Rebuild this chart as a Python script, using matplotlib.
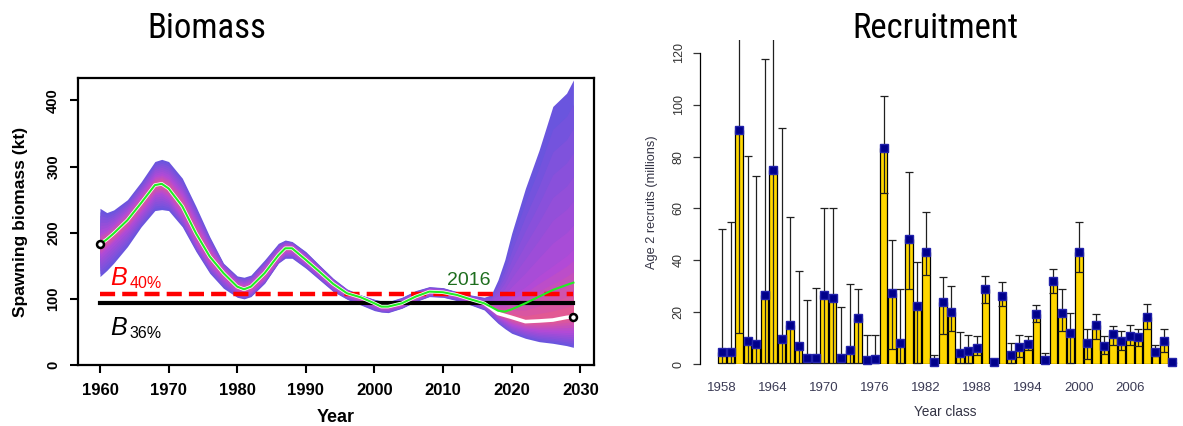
import numpy as np
import matplotlib
matplotlib.use("Agg")
import matplotlib.pyplot as plt
from matplotlib import font_manager as fm
from matplotlib.colors import to_rgb

plt.rcParams['font.family'] = ['Liberation Sans', 'DejaVu Sans']

# ---- Biomass (spawning biomass, kt) ----
years_b = [1960, 1961, 1962, 1964, 1966, 1968, 1969, 1970, 1972, 1974, 1976, 1978,
           1980, 1981, 1982, 1984, 1986, 1987, 1988, 1990, 1992, 1994, 1996, 1998,
           2000, 2001, 2002, 2004, 2006, 2008, 2010, 2012, 2014, 2016, 2017, 2018,
           2019, 2020, 2022, 2024, 2026, 2028, 2029]
assess_2016 = [182.6, 190, 199, 219, 245, 272, 274, 267, 240, 199, 164, 139,
               118.5, 114.5, 118.5, 139, 166, 176.5, 176.5, 159, 141, 122.6, 108.5, 102.4,
               93.3, 88.3, 88.3, 93.3, 103.4, 111, 110, 106, 99.4, 93.3, 88, 82.2,
               80.7, 84.2, 93.3, 103.4, 113.5, 121, 124.6]
median_b = [182.6, 190, 199, 219, 245, 272, 274, 267, 240, 199, 164, 139,
            118.5, 114.5, 118.5, 139, 166, 176.5, 176.5, 159, 141, 122.6, 108.5, 102.4,
            93.3, 88.3, 88.3, 93.3, 103.4, 111, 110, 106, 99.4, 93.3, 86, 78,
            75, 72, 65.6, 66.6, 68, 72, 73]
outer_hi = [237, 230.5, 234.5, 250, 277, 307.7, 311, 307.7, 282.5, 239.6, 194, 154,
            134.7, 132.7, 136, 159, 184, 189, 186.7, 171.5, 151, 131, 115, 106,
            99.4, 97, 95.8, 102.4, 112.5, 118.5, 117, 111, 106, 102.4, 106, 128.6,
            159, 199, 267, 325, 391, 411, 431]
outer_lo = [133.7, 143, 154, 179, 209, 233.5, 235, 233.5, 209, 171.5, 138.7, 116,
            102.4, 100, 103.4, 123.6, 154, 161.4, 161.4, 146.3, 128.6, 111, 99.4, 90.8,
            82.2, 80, 79.2, 85.8, 95.8, 103.4, 102.4, 97.4, 90.8, 83.2, 73, 63,
            55, 48, 40.4, 35.3, 32.8, 29.3, 26.7]
inner_hi = [200, 205, 213, 233, 260, 287, 290, 285, 260, 218, 178, 147,
            126, 123, 127, 149, 175, 183, 182, 165, 146, 127, 112, 104.5,
            96.5, 92.5, 92, 97.5, 108, 115, 113.5, 108.5, 102.5, 97, 95, 95,
            98, 105, 118, 135, 150, 165, 175]
inner_lo = [165, 175, 185, 205, 230, 257, 259, 252, 223, 183, 151, 129,
            111, 107, 110, 130, 158, 170, 170, 153, 135, 117, 104, 96.5,
            89.5, 84.5, 84.5, 89, 99, 107, 106, 102.5, 95.5, 89, 82, 72,
            66, 60, 54, 51, 50, 49, 49]
b40 = 107
b35 = 93.5

# ---- Recruitment (age 2 recruits, millions) ----
years_r = list(range(1958, 2012))
recruits = [4.5, 4.5, 90.2, 8.7, 7.6, 26.7, 75, 9.8, 15.2, 6.8,
            2.3, 2.3, 26.7, 25.5, 2.3, 5.3, 17.7, 1.7, 1.9, 83.2,
            27.4, 8.1, 48.4, 22.2, 43.2, 0.8, 23.8, 19.9, 4.2, 4.9,
            6.2, 28.9, 0.6, 26.4, 3.6, 6.6, 7.8, 19.4, 1.7, 31.9,
            19.7, 12.0, 43.2, 8.1, 14.9, 7.1, 11.6, 9.0, 10.9, 10.3,
            18.1, 4.5, 8.7, 0.6]
rec_upper = [52.2, 54.8, 140, 80.1, 72.4, 117.7, 140, 90.9, 56.6, 36,
             24.6, 29.5, 60, 60, 21.9, 31, 29, 11.3, 11.3, 103.3,
             48, 28.9, 74.2, 39.4, 58.6, 3.3, 33.7, 30.2, 12.5, 11.1,
             10.7, 34.1, 0.6, 31.5, 8.1, 11.2, 10.7, 22.8, 4.2, 36.5,
             28.8, 19.7, 54.7, 13.4, 19.3, 10.7, 14.8, 12.6, 14.9, 13.6,
             23.1, 7.3, 13.6, 0.6]
rec_lower = [0.3, 0.3, 12, 0.3, 0.3, 0.3, 0.4, 0.3, 0.3, 0.3,
             0.3, 0.3, 0.3, 0.3, 0.3, 0.3, 0.3, 0.3, 0.3, 66,
             5.8, 0.3, 28.9, 0.4, 34.5, 0.3, 11.6, 12.9, 0.3, 0.3,
             3.6, 23.5, 0.6, 22.5, 0.3, 2.7, 5.3, 16.3, 0.3, 27.4,
             12.9, 0.4, 35.5, 1.9, 9.6, 3.9, 7.5, 5.5, 7.3, 6.8,
             13.5, 3.0, 4.5, 0.6]
rec_ticks = list(range(1958, 2007, 6))


def narrow_font():
    # look for a condensed sans face; fall back to a smaller Liberation Sans
    names = {f.name: f for f in fm.fontManager.ttflist}
    for nm in ['Liberation Sans Narrow', 'Roboto Condensed', 'Open Sans Condensed',
               'DejaVu Sans Condensed']:
        if nm in names:
            return dict(family=nm), 25
    for f in fm.fontManager.ttflist:
        if 'condensed' in str(f.stretch).lower() and f.name in ('DejaVu Sans', 'Roboto', 'Open Sans'):
            return dict(family=f.name, stretch=f.stretch), 25
    return dict(family='Liberation Sans'), 22


W, H = 1183, 426
fig = plt.figure(figsize=(W / 100, H / 100), dpi=100)

# ================= Biomass panel =================
ax1 = fig.add_axes([78 / W, 61 / H, 516 / W, 287 / H])
yb = np.array(years_b)
ohi, olo = np.array(outer_hi), np.array(outer_lo)
ihi, ilo = np.array(inner_hi), np.array(inner_lo)
med = np.array(median_b)

# fan: blend shading layers from outer band to inner band to median
c_out, c_mid, c_in = to_rgb('#6a55de'), to_rgb('#b24ad6'), to_rgb('#ec5c86')
n1, n2 = 7, 6
for k in range(n1):
    t = k / n1
    col = tuple(a + t * (b - a) for a, b in zip(c_out, c_mid))
    ax1.fill_between(yb, olo + t * (ilo - olo), ohi + t * (ihi - ohi),
                     color=col, lw=0, zorder=1)
for k in range(n2):
    t = k / n2
    col = tuple(a + t * (b - a) for a, b in zip(c_mid, c_in))
    ax1.fill_between(yb, ilo + t * (med - ilo), ihi + t * (med - ihi),
                     color=col, lw=0, zorder=1)

ax1.plot([1960, 2029], [b40, b40], color='#ff0000', lw=3.2, dashes=(3.4, 1.6), zorder=3)
ax1.plot([1960, 2029], [b35, b35], color='black', lw=3.0, zorder=3)
ax1.plot(yb, med, color='white', lw=2.6, zorder=4)
ax1.plot(yb, assess_2016, color='#22ee22', lw=1.5, zorder=5)
ax1.plot([years_b[0], years_b[-1]], [median_b[0], median_b[-1]], 'o', ms=5,
         mfc='white', mec='black', mew=1.8, zorder=6, clip_on=False)

ax1.text(1961.5, 121, 'B', color='red', fontsize=18, style='italic', zorder=6)
ax1.text(1964.3, 116, '40%', color='red', fontsize=11.5, zorder=6)
ax1.text(1961.5, 46, 'B', color='black', fontsize=18, style='italic', zorder=6)
ax1.text(1964.3, 41, '36%', color='black', fontsize=11.5, zorder=6)
ax1.text(2013.8, 128, '2016', color='#1e6e1e', fontsize=14, ha='center', va='center', zorder=6)

ax1.set_xlim(1956.8, 2032.0)
ax1.set_ylim(0, 434)
ax1.set_xticks(range(1960, 2031, 10))
ax1.set_yticks([0, 100, 200, 300, 400])
for s in ax1.spines.values():
    s.set_linewidth(1.6)
ax1.tick_params(direction='out', length=5.8, width=1.5, colors='black')
ax1.tick_params(axis='x', pad=7, labelsize=12)
ax1.tick_params(axis='y', pad=7, labelsize=10.5, labelrotation=90)
for lab in ax1.get_xticklabels() + ax1.get_yticklabels():
    lab.set_fontweight('bold')
for lab in ax1.get_yticklabels():
    lab.set_va('center')
ax1.set_xlabel('Year', fontsize=13, fontweight='bold')
ax1.xaxis.set_label_coords(0.5, -0.153)
ax1.set_ylabel('Spawning biomass (kt)', fontsize=12.5, fontweight='bold')
ax1.yaxis.set_label_coords(-0.097, 0.5)

# ================= Recruitment panel =================
ax2 = fig.add_axes([700 / W, 62 / H, 480 / W, 324 / H])
yr = np.array(years_r)
rv = np.array(recruits)
err = [rv - np.array(rec_lower), np.array(rec_upper) - rv]
ax2.bar(yr, rv, width=0.88, color='#ffd700', edgecolor='black', linewidth=0.9, zorder=2)
ax2.errorbar(yr, rv, yerr=err, fmt='none', ecolor='#202020', elinewidth=0.9,
             capsize=3, capthick=0.9, zorder=3)
ax2.plot(yr, rv, 's', color='#00008b', mec='#2222aa', ms=5.2, zorder=5, clip_on=False)

ax2.set_xlim(1955.4, 2011.9)
ax2.set_ylim(0, 125)
for side in ['top', 'right', 'bottom']:
    ax2.spines[side].set_visible(False)
ax2.spines['left'].set_bounds(0, 120)
ax2.spines['left'].set_linewidth(0.9)
ax2.set_yticks(range(0, 121, 20))
ax2.set_xticks(rec_ticks)
ax2.tick_params(axis='y', direction='out', length=5, width=0.9, labelsize=9,
                labelrotation=90, pad=6, colors='#333333')
ax2.tick_params(axis='x', length=0, labelsize=9.5, pad=13, labelcolor='#3b3b55')
for lab in ax2.get_yticklabels():
    lab.set_va('center')
ax2.set_xlabel('Year class', fontsize=9.8, color='#333344')
ax2.xaxis.set_label_coords(0.51, -0.125)
ax2.set_ylabel('Age 2 recruits (millions)', fontsize=9.2, color='#333344')
ax2.yaxis.set_label_coords(-0.0875, 0.5)

# titles
tprops, tsize = narrow_font()
fig.text(206.5 / W, 1 - 29 / H, 'Biomass', fontsize=tsize, ha='center', va='center', **tprops)
fig.text(935 / W, 1 - 29 / H, 'Recruitment', fontsize=tsize, ha='center', va='center', **tprops)

fig.savefig('out.png', dpi=100)
